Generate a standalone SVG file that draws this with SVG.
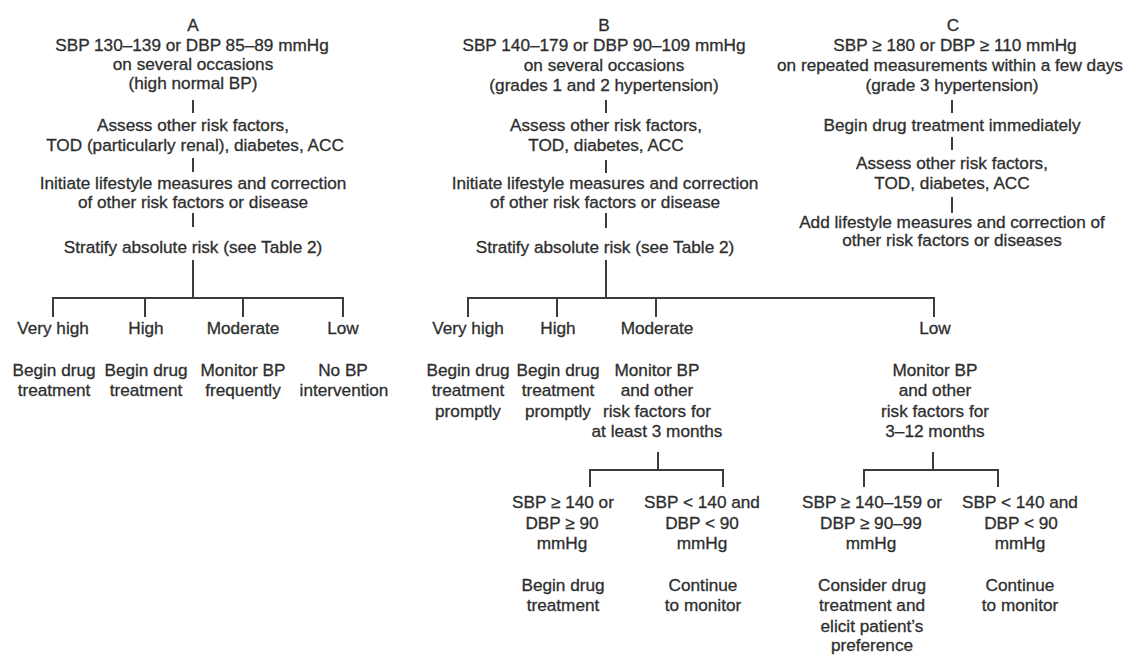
<svg xmlns="http://www.w3.org/2000/svg" width="1127" height="656" viewBox="0 0 1127 656">
<style>
text{font-family:"Liberation Sans",Arial,sans-serif;font-size:17.2px;fill:#2e2e2e;stroke:#2e2e2e;stroke-width:0.3;text-anchor:middle}
.c line,.c polyline{stroke:#3c3c3c;stroke-width:2;fill:none}
</style>
<rect width="1127" height="656" fill="#fff"/>
<g class="c" id="connectors">
<line x1="193" y1="100" x2="193" y2="113"/>
<line x1="193" y1="158" x2="193" y2="172"/>
<line x1="193" y1="213" x2="193" y2="227"/>
<line x1="193" y1="260" x2="193" y2="298"/>
<polyline points="53,317 53,298 343,298 343,317"/>
<line x1="145" y1="298" x2="145" y2="317"/>
<line x1="243" y1="298" x2="243" y2="317"/>
<line x1="606" y1="100" x2="606" y2="113"/>
<line x1="606" y1="160" x2="606" y2="173"/>
<line x1="606" y1="213" x2="606" y2="228"/>
<line x1="606" y1="260" x2="606" y2="298"/>
<polyline points="468,317 468,298 934,298 934,317"/>
<line x1="557" y1="298" x2="557" y2="317"/>
<line x1="656" y1="298" x2="656" y2="317"/>
<line x1="952" y1="100" x2="952" y2="113"/>
<line x1="952" y1="137" x2="952" y2="150"/>
<line x1="952" y1="197" x2="952" y2="213"/>
<line x1="658" y1="452" x2="658" y2="470"/>
<polyline points="590,487 590,470 723,470 723,487"/>
<line x1="933" y1="452" x2="933" y2="470"/>
<polyline points="864,487 864,470 998,470 998,487"/>
</g>
<g id="A-head"><text x="193" y="31">A</text><text x="192" y="51">SBP 130–139 or DBP 85–89 mmHg</text><text x="193" y="70">on several occasions</text><text x="193" y="89">(high normal BP)</text></g>
<g id="A-assess"><text x="193" y="131">Assess other risk factors,</text><text x="195" y="151">TOD (particularly renal), diabetes, ACC</text></g>
<g id="A-lifestyle"><text x="193" y="189">Initiate lifestyle measures and correction</text><text x="193" y="208">of other risk factors or disease</text></g>
<g id="A-stratify"><text x="193" y="253">Stratify absolute risk (see Table 2)</text></g>
<g id="A-veryhigh"><text x="53" y="334">Very high</text><text x="54" y="376">Begin drug</text><text x="54" y="396">treatment</text></g>
<g id="A-high"><text x="146" y="334">High</text><text x="146" y="376">Begin drug</text><text x="146" y="396">treatment</text></g>
<g id="A-moderate"><text x="243" y="334">Moderate</text><text x="243" y="376">Monitor BP</text><text x="243" y="396">frequently</text></g>
<g id="A-low"><text x="343" y="334">Low</text><text x="343" y="376">No BP</text><text x="344" y="396">intervention</text></g>
<g id="B-head"><text x="604" y="31">B</text><text x="604" y="51">SBP 140–179 or DBP 90–109 mmHg</text><text x="604" y="71">on several occasions</text><text x="604" y="91">(grades 1 and 2 hypertension)</text></g>
<g id="B-assess"><text x="606" y="131">Assess other risk factors,</text><text x="606" y="151">TOD, diabetes, ACC</text></g>
<g id="B-lifestyle"><text x="605" y="189">Initiate lifestyle measures and correction</text><text x="605" y="208">of other risk factors or disease</text></g>
<g id="B-stratify"><text x="605" y="253">Stratify absolute risk (see Table 2)</text></g>
<g id="B-veryhigh"><text x="468" y="334">Very high</text><text x="468" y="376">Begin drug</text><text x="468" y="396">treatment</text><text x="468" y="417">promptly</text></g>
<g id="B-high"><text x="558" y="334">High</text><text x="558" y="376">Begin drug</text><text x="558" y="396">treatment</text><text x="558" y="417">promptly</text></g>
<g id="B-moderate"><text x="657" y="334">Moderate</text><text x="657" y="376">Monitor BP</text><text x="657" y="396">and other</text><text x="657" y="417">risk factors for</text><text x="657" y="437">at least 3 months</text></g>
<g id="B-low"><text x="935" y="334">Low</text><text x="935" y="376">Monitor BP</text><text x="935" y="396">and other</text><text x="935" y="417">risk factors for</text><text x="935" y="437">3–12 months</text></g>
<g id="B-mod-high"><text x="563" y="508">SBP ≥ 140 or</text><text x="562" y="529">DBP ≥ 90</text><text x="562" y="549">mmHg</text><text x="563" y="591">Begin drug</text><text x="563" y="611">treatment</text></g>
<g id="B-mod-low"><text x="702" y="508">SBP &lt; 140 and</text><text x="702" y="529">DBP &lt; 90</text><text x="702" y="549">mmHg</text><text x="703" y="591">Continue</text><text x="703" y="611">to monitor</text></g>
<g id="B-low-high"><text x="872" y="508">SBP ≥ 140–159 or</text><text x="871" y="529">DBP ≥ 90–99</text><text x="871" y="549">mmHg</text><text x="872" y="591">Consider drug</text><text x="872" y="611">treatment and</text><text x="872" y="632">elicit patient’s</text><text x="872" y="651">preference</text></g>
<g id="B-low-low"><text x="1020" y="508">SBP &lt; 140 and</text><text x="1021" y="529">DBP &lt; 90</text><text x="1020" y="549">mmHg</text><text x="1020" y="591">Continue</text><text x="1020" y="611">to monitor</text></g>
<g id="C-head"><text x="953" y="31">C</text><text x="955" y="51">SBP ≥ 180 or DBP ≥ 110 mmHg</text><text x="950" y="71">on repeated measurements within a few days</text><text x="952" y="91">(grade 3 hypertension)</text></g>
<g id="C-begin"><text x="952" y="131">Begin drug treatment immediately</text></g>
<g id="C-assess"><text x="952" y="169">Assess other risk factors,</text><text x="952" y="189">TOD, diabetes, ACC</text></g>
<g id="C-lifestyle"><text x="952" y="228">Add lifestyle measures and correction of</text><text x="952" y="246">other risk factors or diseases</text></g>
</svg>
